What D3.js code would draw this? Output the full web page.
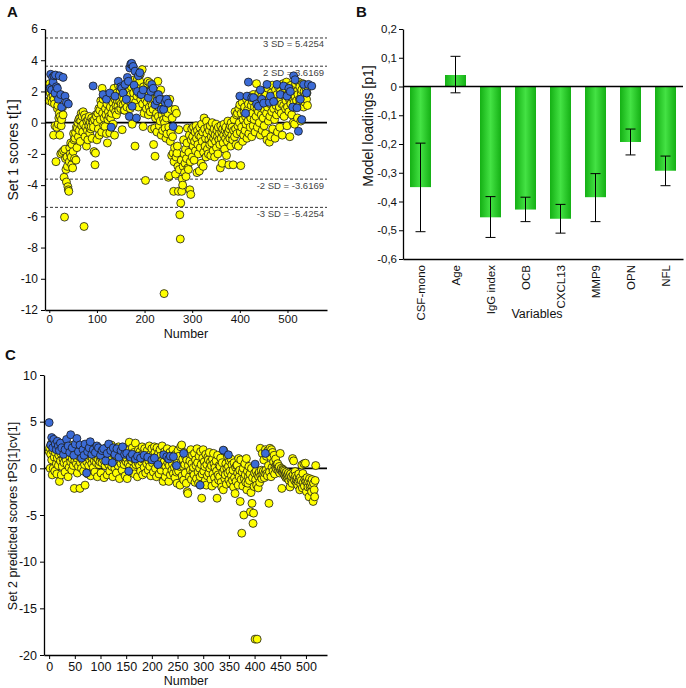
<!DOCTYPE html>
<html><head><meta charset="utf-8">
<script src="https://cdn.jsdelivr.net/npm/d3@7"></script>
<style>body{margin:0;background:#fff} svg{display:block} text{font-family:Arial,'Liberation Sans',sans-serif;fill:#111}</style>
</head><body>
<script>
// ---------- Panel A data (Set 1 scores t[1]); index = Number ----------
const scoresA = [
1.4,2.5,1.9,2.2,1.6,2.3,1.3,2.0,1.7,-0.8,1.5,1.2,-0.2,2.0,-2.5,1.8,-0.3,0.9,1.1,-0.1,0.3,0.6,-0.8,0.4,-2.0,-0.2,0.2,-1.9,1.0,0.5,
-1.8,-3.5,-6.05,-1.7,-2.3,-3.0,-3.8,-2.2,-2.8,-4.1,-4.3,-4.4,-2.5,-1.6,-2.0,-1.3,-2.2,-2.7,-1.4,-2.9,-1.85,-0.7,-1.1,-2.3,-1.0,-0.65,-2.4,-0.3,-1.6,-0.35,
0.0,-0.9,0.2,-0.5,0.3,-1.2,0.1,0.6,-0.2,0.4,-0.6,0.7,-0.1,-6.65,0.5,-0.9,0.3,-0.3,-1.5,0.1,-0.5,-1.1,0.2,-0.2,0.4,-0.65,0.0,-0.4,-0.25,0.3,
-1.0,0.1,0.0,-0.3,-1.85,0.2,-2.7,-1.95,0.5,0.4,-1.1,0.0,0.6,-0.4,0.9,-0.8,0.8,0.2,1.4,1.15,-0.6,2.2,0.6,1.5,-0.2,0.3,1.7,-0.25,0.9,0.5,
-0.7,1.2,-1.3,0.2,0.7,1.6,0.4,-0.65,1.0,0.3,1.8,0.6,-0.2,1.3,-0.1,0.9,2.2,-0.8,1.5,0.7,1.1,0.5,1.9,1.4,1.05,2.4,0.8,1.6,1.35,2.0,
0.9,1.2,1.7,-0.45,2.3,1.15,1.5,0.8,0.8,2.1,1.3,1.8,2.5,1.0,1.6,1.7,2.2,1.4,2.0,2.1,0.9,1.8,2.3,1.2,-0.1,2.6,1.5,1.9,2.4,2.75,
-1.5,1.3,2.2,2.1,1.7,2.8,2.45,1.0,1.9,2.3,2.65,3.1,1.5,1.8,2.0,3.4,1.2,-0.25,2.3,0.6,1.7,1.5,-3.7,2.0,0.9,1.3,2.5,2.65,0.5,1.8,
1.0,2.55,0.7,1.4,2.1,-0.4,1.1,1.9,0.85,-1.4,1.5,-0.35,-2.15,0.3,1.2,0.6,-0.6,1.7,2.65,0.4,1.0,-0.2,1.3,0.1,2.1,-0.8,1.5,0.5,-0.5,0.85,
0.2,-10.95,0.0,-0.35,0.6,-1.0,0.3,-0.7,0.9,0.6,-3.5,-0.3,-3.4,1.5,-1.2,-0.65,0.85,-2.1,0.3,-0.9,-1.95,-4.4,-2.5,-1.6,0.85,-3.3,-2.2,0.6,-1.95,-1.5,
-2.8,-4.4,-0.45,-3.0,-5.9,-7.45,-5.15,-2.4,-4.4,-3.6,-4.0,-2.8,-1.1,-2.0,-3.2,-2.6,-1.7,-3.45,-2.3,-1.3,-0.35,-2.9,-3.0,-1.9,-0.8,-4.3,-2.5,-4.6,-1.1,-0.4,
-2.2,-0.9,-1.5,-0.3,-2.4,-1.2,-0.6,-1.8,-0.2,-1.0,-3.2,-0.5,-1.4,-2.0,-0.8,-3.1,-0.3,-1.6,-0.9,-2.6,-0.1,-1.2,-0.6,-2.8,-1.9,0.3,-0.4,-1.5,-1.0,-2.2,
0.1,-0.7,-1.7,-0.3,-2.0,-1.1,-0.5,-1.4,-0.2,-2.1,-0.9,-1.3,0.0,-0.6,-1.8,-1.0,-0.4,-2.2,-0.8,-1.2,-0.1,-1.6,-0.5,-0.9,-2.0,-0.3,-1.1,-0.7,-1.4,-2.9,
-0.2,-1.0,-0.6,-2.6,-0.4,-1.3,-0.8,-0.1,-1.7,-0.5,-1.0,-0.3,-2.1,-0.7,-1.2,0.1,-0.6,-2.7,-0.4,-1.0,-0.2,-1.5,0.0,-0.8,-0.3,-1.1,-2.7,-0.5,0.2,-0.9,
0.7,-0.4,-1.4,0.5,-0.7,0.6,-0.2,-1.5,0.9,0.0,1.15,-0.6,-2.75,0.6,-0.3,1.3,-1.2,0.2,-0.8,0.7,1.0,-0.5,0.4,-0.1,1.5,-1.0,0.8,0.1,1.2,-0.7,
0.5,1.7,-0.3,0.3,1.1,-0.9,1.4,0.6,-0.2,1.8,0.2,1.0,-0.6,1.6,0.4,2.5,0.9,-0.3,1.3,0.7,1.9,0.0,1.5,-0.8,1.1,0.5,1.7,-0.5,1.2,0.3,
2.0,-0.2,0.8,1.4,-0.7,1.8,0.6,-1.1,1.0,2.2,0.1,1.5,-1.25,0.4,1.2,-0.9,1.9,0.7,2.4,-0.4,1.3,0.9,1.6,0.2,-1.0,2.1,1.1,0.5,1.8,-0.6,
1.4,2.3,0.8,1.0,-0.3,2.0,1.5,0.6,1.2,-0.8,1.9,2.5,1.1,0.4,1.7,2.2,0.9,1.4,2.6,-0.2,1.0,1.8,2.3,0.7,1.5,-0.9,2.0,1.2,2.4,0.5,
1.6,1.9,0.0,2.2,1.3,-0.1,1.7,2.5,1.0,1.4,2.0,0.3,1.8,2.6,1.1,1.5,2.3,1.2,0.1,1.9,2.1,1.4,2.5,1.6,1.0,2.0,2.4,1.3,1.8,2.2,
1.5,1.9,1.1,2.3
];
const blueA = [
[2,2.2],[3,3.1],[5,2.1],[7,2.9],[8,2.6],[10,3.0],[12,1.9],[13,3.05],[15,2.3],[17,2.2],[19,1.5],[21,3.0],[24,1.8],[26,1.0],[29,2.9],[33,1.7],[36,1.3],[40,1.2],
[92,2.35],[113,1.8],[120,1.5],[127,1.9],[130,-0.3],[138,1.7],[145,2.65],[150,2.3],[152,2.2],[155,1.9],[159,2.45],[162,1.5],[164,2.9],[166,2.65],[168,0.4],
[169,3.5],[171,3.75],[173,3.8],[174,1.05],[176,3.6],[178,2.4],[180,3.3],[183,0.3],[185,2.0],[187,3.0],[190,3.2],[193,1.8],[197,2.1],[208,1.6],[213,2.0],
[215,2.45],[218,2.2],[222,1.15],[226,1.4],[229,1.8],[232,1.5],[235,0.85],[240,0.85],[243,1.3],[246,1.5],[250,1.25],[260,-0.25],
[400,1.7],[412,0.6],[415,1.7],[418,2.6],[425,1.6],[429,1.6],[435,1.2],[439,1.05],[443,2.1],[446,1.5],[450,1.25],[457,2.45],[462,1.3],[464,1.7],[471,1.35],
[478,2.45],[485,1.8],[492,2.35],[499,1.7],[503,2.2],[506,2.0],[511,1.0],[513,3.0],[516,2.75],[520,0.95],[523,-0.55],[527,1.5],[530,0.2],[534,2.45],[540,1.9],[544,2.45],[551,2.35]
];
const ticksAX = [0,100,200,300,400,500];
const ticksAY = [-12,-10,-8,-6,-4,-2,0,2,4,6];
const sdValues = [5.4254, 3.6169, -3.6169, -5.4254];
const sdLabels = ["3 SD = 5.4254", "2 SD = 3.6169", "-2 SD = -3.6169", "-3 SD = -5.4254"];

// ---------- Panel B data (Model loadings [p1]) ----------
const variables = ["CSF-mono","Age","IgG index","OCB","CXCL13","MMP9","OPN","NFL"];
const loadings  = [-0.35, 0.04, -0.455, -0.428, -0.46, -0.385, -0.193, -0.293];
const errLow    = [-0.505, -0.022, -0.525, -0.47, -0.51, -0.47, -0.238, -0.345];
const errHigh   = [-0.197, 0.105, -0.383, -0.385, -0.41, -0.303, -0.148, -0.242];
const ticksBY = [0.2,0.1,0,-0.1,-0.2,-0.3,-0.4,-0.5,-0.6];

// ---------- Panel C data (Set 2 predicted scores tPS[1]cv[1]); index = Number ----------
const scoresC = [
1.8,2.2,0.0,1.5,2.6,0.9,-0.7,1.9,0.0,2.3,1.2,-0.3,1.7,2.4,0.5,-0.6,1.1,2.0,0.3,1.4,-1.4,2.1,0.8,1.6,-0.7,2.3,0.2,1.0,2.7,0.6,1.3,-0.4,1.9,0.9,2.2,0.4,1.5,-0.9,1.8,0.1,1.2,2.5,0.7,1.6,-0.2,1.0,2.0,0.3,1.4,-2.15,
0.8,1.7,2.6,0.5,1.1,-0.5,1.9,0.2,1.3,2.3,-2.15,0.6,1.5,0.0,2.1,0.9,1.4,-0.3,1.8,0.4,-1.8,1.0,2.2,0.7,1.2,-0.6,1.6,0.3,2.0,0.9,1.3,-0.8,1.7,0.5,1.1,2.4,0.1,1.5,0.8,-0.4,1.9,1.2,0.6,1.6,-0.9,1.0,2.1,0.4,1.3,0.7,
1.8,-0.5,1.1,0.6,2.0,1.4,0.9,-1.0,1.6,0.3,1.2,2.2,0.7,-0.7,1.5,1.0,0.4,1.9,-0.3,1.3,0.8,2.5,0.2,1.1,-0.9,1.7,0.6,1.4,0.0,2.0,1.2,-0.5,0.9,1.6,0.3,2.3,1.0,-1.1,0.7,1.5,0.5,1.8,-0.2,1.2,0.9,2.1,0.4,1.3,-0.8,1.6,
0.7,1.1,-1.1,1.9,0.5,1.4,2.8,0.2,1.0,-0.4,1.6,0.8,2.2,1.3,0.0,1.7,-0.6,0.9,2.7,0.4,1.2,1.5,-0.9,0.6,2.0,1.1,0.3,1.8,-0.3,1.4,0.7,2.3,-0.7,1.0,1.6,0.1,2.1,0.9,-0.5,1.3,0.5,1.9,1.2,-0.2,0.8,2.4,0.2,1.5,-0.8,1.1,
2.1,0.6,1.4,-0.4,0.9,2.3,1.7,0.0,1.2,-0.9,2.2,0.5,1.0,1.6,-0.6,0.3,2.0,1.3,-0.2,0.8,2.4,0.4,-1.4,1.1,0.7,1.8,-0.9,0.2,1.5,-0.35,2.1,0.6,1.0,-1.4,0.3,1.7,-0.7,0.9,1.3,-0.2,0.5,2.0,-0.55,1.2,0.1,-1.0,1.5,0.4,-0.4,-1.6,
0.8,1.9,-0.3,1.3,0.2,-1.8,2.3,0.6,2.5,-0.8,1.0,0.2,-1.25,1.7,0.4,-0.5,1.2,-1.6,0.9,-2.5,-2.7,0.3,1.6,-0.9,0.8,-0.2,2.0,-1.2,0.5,1.4,-0.35,0.1,-0.7,1.6,-1.5,0.9,0.3,-1.1,2.1,0.6,-0.4,-1.6,1.3,0.0,-0.9,1.8,0.4,-3.2,-0.6,1.1,
2.0,-0.3,0.7,0.2,-1.3,1.5,-1.8,0.4,-0.8,1.2,0.9,-0.5,1.7,0.0,0.7,-1.2,0.3,-1.9,1.0,-0.6,1.6,0.5,-1.0,0.1,-1.6,0.8,-0.3,-3.2,1.4,-0.7,-1.25,0.3,-0.9,0.2,1.1,-1.5,-2.0,0.6,-0.4,-2.3,1.9,-0.1,-1.1,-0.7,0.5,-1.7,0.0,1.3,-0.5,0.2,
-1.25,0.8,-0.3,-1.6,1.0,-0.8,0.4,-1.3,-0.2,-2.0,0.6,-1.0,-2.7,0.1,-1.4,0.3,0.35,-0.5,-1.8,1.05,-0.9,-0.2,-3.55,0.9,-1.2,-6.95,-0.4,-1.9,0.0,-5.0,-1.1,0.5,-0.7,-1.5,1.05,-2.3,-0.3,-1.6,-0.9,0.2,-1.3,-0.6,-4.65,-2.6,0.0,-3.75,-1.0,-5.9,-4.8,-1.95,
-0.5,-18.3,-1.2,-0.3,-1.8,-18.3,-0.7,-2.1,-0.9,-0.4,-1.5,2.15,-0.8,-0.2,-1.1,1.6,-0.6,-0.3,0.9,-1.0,-0.5,2.0,-0.2,1.3,-0.55,-0.8,1.9,0.3,-3.75,-0.4,2.15,1.25,-0.9,2.0,0.1,1.7,-0.3,0.7,1.4,-0.6,0.2,1.0,0.35,-0.1,0.4,0.5,0.0,-0.3,0.2,-0.5,
1.6,-0.2,0.0,-2.15,-0.4,-0.1,-0.2,-0.6,-0.3,-0.8,-0.5,-1.0,-0.4,-0.9,-0.7,-1.1,-0.5,-1.3,-0.8,-2.0,-0.6,-1.2,-0.9,-1.6,1.05,-0.7,0.8,-1.1,-1.3,-0.35,-0.8,-1.5,-1.25,-1.0,-1.8,-1.4,-0.6,-1.2,-2.3,-1.0,
-1.7,-1.3,0.35,-2.1,-0.55,-1.5,0.5,-1.9,-1.2,0.55,-1.4,-2.5,-1.0,-1.6,-2.0,-1.4,-3.05,-1.1,-2.0,-1.8,-1.5,-2.5,-1.2,-1.9,-3.55,-1.6,-2.3,-3.05,-1.3,0.3
];
const blueC = [
[0,4.9],[3,2.5],[5,3.3],[7,2.2],[9,3.1],[12,2.6],[14,2.0],[16,2.9],[18,2.4],[20,1.9],[22,2.7],[25,2.2],[28,1.5],[31,2.0],[34,3.1],[37,2.4],[40,1.7],[42,3.6],
[45,2.2],[48,1.4],[51,2.6],[54,3.2],[57,1.8],[60,2.5],[63,1.1],[66,2.0],[68,1.4],[70,2.6],[73,-0.5],[75,1.8],[78,2.2],[80,2.85],[83,1.5],[86,2.0],[90,1.7],
[93,2.4],[96,2.2],[100,1.4],[103,1.9],[106,2.1],[110,0.8],[113,1.6],[116,2.6],[120,1.9],[123,0.6],[125,2.2],[128,1.5],[132,2.1],[136,1.2],[140,1.9],[143,2.3],
[147,1.5],[151,1.6],[155,-0.3],[158,1.2],[162,1.5],[168,1.0],[172,1.3],[178,1.1],[185,1.4],[192,1.2],[200,0.9],[205,1.1],[212,0.4],[223,1.45],[229,1.25],
[233,1.0],[236,1.3],[242,1.25],[248,0.3],[262,1.6],[294,-1.8],[339,1.95],[349,1.45],[401,0.45],[421,1.6]
];
const ticksCX = [0,50,100,150,200,250,300,350,400,450,500];
const ticksCY = [10,5,0,-5,-10,-15,-20];

// ---------- drawing ----------
const svg = d3.select("body").append("svg").attr("width",686).attr("height",688);
const YELLOW = "#ffff00", BLUE = "#3b6bd6";

function styleAxis(g, fs){
  g.select(".domain").attr("stroke","#000").attr("stroke-width",1.3);
  g.selectAll(".tick line").attr("stroke","#000").attr("stroke-width",1);
  g.selectAll(".tick text").attr("font-size",fs).attr("fill","#111").attr("font-family","Arial,'Liberation Sans',sans-serif");
}
function scatter(g, scores, blue, x, y){
  const yel = scores.map((v,i)=>({n:i, v:v}));
  const blu = blue.map(d=>({n:d[0], v:d[1]}));
  g.append("g").selectAll("circle").data(yel).join("circle")
    .attr("cx",d=>x(d.n)).attr("cy",d=>y(d.v)).attr("r",4)
    .attr("fill",YELLOW).attr("stroke","#1a1a1a").attr("stroke-width",0.8);
  g.append("g").selectAll("circle").data(blu).join("circle")
    .attr("cx",d=>x(d.n)).attr("cy",d=>y(d.v)).attr("r",4)
    .attr("fill",BLUE).attr("stroke","#1a1a1a").attr("stroke-width",0.8);
}

// Panel A
{
  const x = d3.scaleLinear().domain([-9,583]).range([45,327]);
  const y = d3.scaleLinear().domain([-12,6]).range([310,29]);
  const g = svg.append("g");
  sdValues.forEach((v,i)=>{
    g.append("line").attr("x1",x(-9)).attr("x2",x(583)).attr("y1",y(v)).attr("y2",y(v))
      .attr("stroke","#333").attr("stroke-width",1).attr("stroke-dasharray","3,2");
    g.append("text").attr("x",324).attr("y",y(v)+9.5).attr("text-anchor","end")
      .attr("font-size",9.5).style("fill","#444").text(sdLabels[i]);
  });
  g.append("line").attr("x1",x(-9)).attr("x2",x(583)).attr("y1",y(0)).attr("y2",y(0))
    .attr("stroke","#000").attr("stroke-width",1.6);
  scatter(g.append("g"), scoresA, blueA, x, y);
  const ay = g.append("g").attr("transform","translate(45,0)")
    .call(d3.axisLeft(y).tickValues(ticksAY).tickSize(4).tickSizeOuter(0).tickFormat(d=>String(d)));
  styleAxis(ay, 12);
  const ax = g.append("g").attr("transform","translate(0,310)")
    .call(d3.axisBottom(x).tickValues(ticksAX).tickSize(3).tickPadding(2).tickSizeOuter(0).tickFormat(d=>String(d)));
  styleAxis(ax, 11.5);
  g.append("text").attr("transform","translate(18,150) rotate(-90)").attr("text-anchor","middle")
    .attr("font-size",14).text("Set 1 scores t[1]");
  g.append("text").attr("x",186).attr("y",338).attr("text-anchor","middle").attr("font-size",12.5).text("Number");
  g.append("text").attr("x",7).attr("y",17).attr("font-size",15).attr("font-weight","bold").text("A");
}

// Panel B
{
  const x = d3.scaleBand().domain(variables).range([403,683]).paddingInner(0.4).paddingOuter(0.2);
  const y = d3.scaleLinear().domain([-0.6,0.2]).range([259,29]);
  const g = svg.append("g");
  const grad = svg.append("defs").append("linearGradient").attr("id","gbar")
    .attr("x1","0%").attr("x2","100%").attr("y1","0%").attr("y2","0%");
  grad.append("stop").attr("offset","0%").attr("stop-color","#14b014");
  grad.append("stop").attr("offset","50%").attr("stop-color","#44e244");
  grad.append("stop").attr("offset","100%").attr("stop-color","#14b014");
  const rows = variables.map((v,i)=>({k:v, v:loadings[i], lo:errLow[i], hi:errHigh[i]}));
  g.selectAll("rect").data(rows).join("rect")
    .attr("x",d=>x(d.k)).attr("width",x.bandwidth())
    .attr("y",d=>y(Math.max(0,d.v))).attr("height",d=>Math.abs(y(d.v)-y(0)))
    .attr("fill","url(#gbar)");
  g.append("line").attr("x1",403).attr("x2",683).attr("y1",y(0)).attr("y2",y(0))
    .attr("stroke","#000").attr("stroke-width",1.5);
  const eb = g.selectAll("g.eb").data(rows).join("g").attr("class","eb");
  eb.append("line").attr("x1",d=>x(d.k)+x.bandwidth()/2).attr("x2",d=>x(d.k)+x.bandwidth()/2)
    .attr("y1",d=>y(d.lo)).attr("y2",d=>y(d.hi)).attr("stroke","#000").attr("stroke-width",1);
  ["lo","hi"].forEach(key=>{
    eb.append("line").attr("x1",d=>x(d.k)+x.bandwidth()/2-5).attr("x2",d=>x(d.k)+x.bandwidth()/2+5)
      .attr("y1",d=>y(d[key])).attr("y2",d=>y(d[key])).attr("stroke","#000").attr("stroke-width",1);
  });
  const ay = g.append("g").attr("transform","translate(403,0)")
    .call(d3.axisLeft(y).tickValues(ticksBY).tickSize(4).tickPadding(2).tickSizeOuter(0)
      .tickFormat(d=> d===0 ? "0" : d.toFixed(1).replace(".",",")));
  styleAxis(ay, 11.5);
  const ax = g.append("g").attr("transform","translate(0,259)")
    .call(d3.axisBottom(x).tickSize(0).tickSizeOuter(0));
  styleAxis(ax, 11.5);
  ax.selectAll(".tick text").attr("text-anchor","end").attr("dy",null).attr("y",0)
    .attr("transform","translate(4,6) rotate(-90)");
  g.append("text").attr("transform","translate(373,126) rotate(-90)").attr("text-anchor","middle")
    .attr("font-size",14).text("Model loadings [p1]");
  g.append("text").attr("x",537).attr("y",318).attr("text-anchor","middle").attr("font-size",12.5).text("Variables");
  g.append("text").attr("x",356).attr("y",17).attr("font-size",15).attr("font-weight","bold").text("B");
}

// Panel C
{
  const x = d3.scaleLinear().domain([-10,541]).range([44,327]);
  const y = d3.scaleLinear().domain([-20,10]).range([655,375]);
  const g = svg.append("g");
  g.append("line").attr("x1",x(-10)).attr("x2",x(541)).attr("y1",y(0)).attr("y2",y(0))
    .attr("stroke","#000").attr("stroke-width",1.6);
  scatter(g.append("g"), scoresC, blueC, x, y);
  const ay = g.append("g").attr("transform","translate(44,0)")
    .call(d3.axisLeft(y).tickValues(ticksCY).tickSize(4).tickSizeOuter(0).tickFormat(d=>String(d)));
  styleAxis(ay, 12.5);
  const ax = g.append("g").attr("transform","translate(0,655)")
    .call(d3.axisBottom(x).tickValues(ticksCX).tickSize(4).tickSizeOuter(0).tickFormat(d=>String(d)));
  styleAxis(ax, 12.5);
  g.append("text").attr("transform","translate(17,516) rotate(-90)").attr("text-anchor","middle")
    .attr("font-size",12.5).text("Set 2 predicted scores tPS[1]cv[1]");
  g.append("text").attr("x",186).attr("y",685).attr("text-anchor","middle").attr("font-size",12.5).text("Number");
  g.append("text").attr("x",5).attr("y",360).attr("font-size",15).attr("font-weight","bold").text("C");
}
</script>
</body></html>
